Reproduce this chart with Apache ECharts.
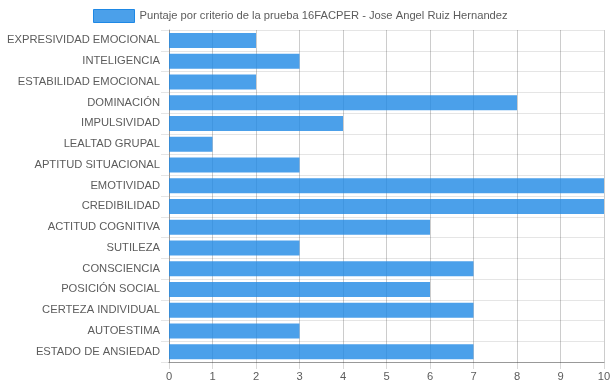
<!DOCTYPE html>
<html>
<head>
<meta charset="utf-8">
<script src="https://cdn.jsdelivr.net/npm/echarts@6/dist/echarts.min.js"></script>
<style>html,body{margin:0;padding:0;background:#fff}#c{width:613px;height:388px}</style>
</head>
<body>
<div id="c"></div>
<script>
const categories = ["EXPRESIVIDAD EMOCIONAL","INTELIGENCIA","ESTABILIDAD EMOCIONAL","DOMINACIÓN","IMPULSIVIDAD","LEALTAD GRUPAL","APTITUD SITUACIONAL","EMOTIVIDAD","CREDIBILIDAD","ACTITUD COGNITIVA","SUTILEZA","CONSCIENCIA","POSICIÓN SOCIAL","CERTEZA INDIVIDUAL","AUTOESTIMA","ESTADO DE ANSIEDAD"];
const values = [2,3,2,8,4,1,3,10,10,6,3,7,6,7,3,7];
const seriesName = "Puntaje por criterio de la prueba 16FACPER - Jose Angel Ruiz Hernandez";

const chart = echarts.init(document.getElementById('c'));
const font = 'Liberation Sans, Arial, sans-serif';
const fs = 11.2;
const txt = '#5c5c5c';
chart.setOption({
  animation: false,
  textStyle: {fontFamily: font},
  legend: {
    top: 9, left: 93, padding: 0,
    icon: 'rect',
    itemWidth: 41, itemHeight: 13, itemGap: 10,
    textStyle: {fontSize: fs, color: txt, fontFamily: font},
    data: [{name: seriesName, itemStyle: {color: 'rgba(30,136,229,0.8)', borderColor: '#1e88e5', borderWidth: 1}}]
  },
  grid: {left: 169, right: 9, top: 30, bottom: 26, containLabel: false, outerBoundsMode: 'none'},
  xAxis: {
    type: 'value', min: 0, max: 10, interval: 1,
    axisLine: {show: true, lineStyle: {color: '#999'}},
    axisTick: {show: true, length: 7, lineStyle: {color: 'rgba(0,0,0,0.15)'}},
    splitLine: {show: true, lineStyle: {color: 'rgba(0,0,0,0.2)'}},
    axisLabel: {fontSize: fs, color: txt, margin: 9, fontFamily: font}
  },
  yAxis: {
    type: 'category', data: categories, inverse: true,
    axisLine: {show: true, lineStyle: {color: '#999'}},
    axisTick: {show: true, length: 8, lineStyle: {color: 'rgba(0,0,0,0.1)'}},
    splitLine: {show: true, lineStyle: {color: 'rgba(0,0,0,0.1)'}},
    axisLabel: {fontSize: fs, color: txt, margin: 9, fontFamily: font}
  },
  series: [{
    name: seriesName, type: 'bar', data: values, barWidth: 15, z: 1,
    itemStyle: {color: 'rgba(30,136,229,0.8)'}
  }]
});
</script>
</body>
</html>
